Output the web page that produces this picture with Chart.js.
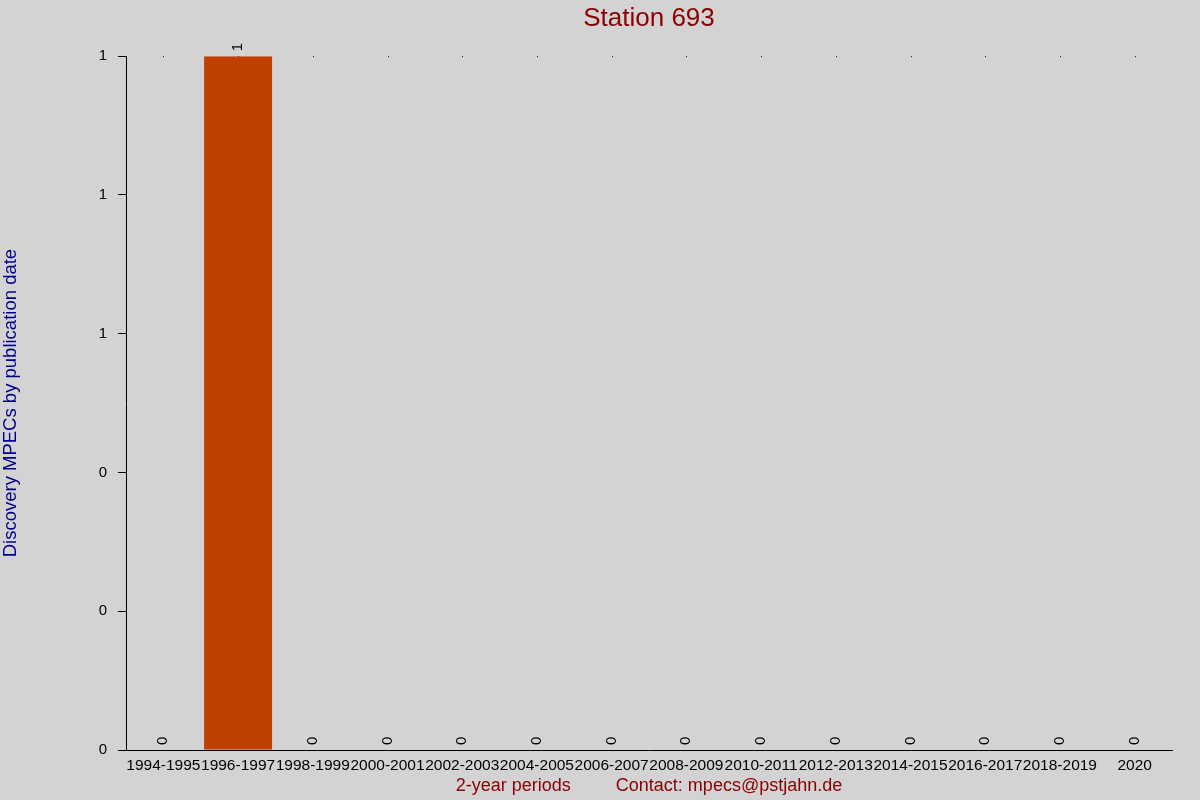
<!DOCTYPE html>
<html>
<head>
<meta charset="utf-8">
<title>Station 693</title>
<script src="https://cdn.jsdelivr.net/npm/chart.js@4/dist/chart.umd.min.js"></script>
<style>
  html, body { margin: 0; padding: 0; background: #d3d3d3; }
  canvas { display: block; }
</style>
</head>
<body>
<canvas id="chart" width="1200" height="800"></canvas>
<script>
// Data
const periods = ["1994-1995", "1996-1997", "1998-1999", "2000-2001", "2002-2003", "2004-2005",
    "2006-2007", "2008-2009", "2010-2011", "2012-2013", "2014-2015", "2016-2017", "2018-2019", "2020"];
const mpecCounts = [0, 1, 0, 0, 0, 0, 0, 0, 0, 0, 0, 0, 0, 0];
const yTickValues = [0, 0.2, 0.4, 0.6, 0.8, 1];

const FONT = "'Liberation Sans', Arial, sans-serif";

// Grey page background
const background = {
    id: "background",
    beforeDraw(chart) {
        const ctx = chart.ctx;
        ctx.save();
        ctx.fillStyle = "#d3d3d3";
        ctx.fillRect(0, 0, chart.width, chart.height);
        ctx.restore();
    }
};

// Tiny dots along the top edge at each category
const topDots = {
    id: "topDots",
    beforeDatasetsDraw(chart) {
        const ctx = chart.ctx;
        const x = chart.scales.x;
        const top = chart.chartArea.top;
        ctx.save();
        ctx.fillStyle = "#000";
        periods.forEach((p, i) => {
            ctx.fillRect(Math.round(x.getPixelForValue(i)), top, 1, 1);
        });
        ctx.restore();
    }
};

// Rotated value labels above each bar
const valueLabels = {
    id: "valueLabels",
    afterDatasetsDraw(chart) {
        const ctx = chart.ctx;
        const meta = chart.getDatasetMeta(0);
        ctx.save();
        ctx.fillStyle = "#000";
        ctx.font = "15px " + FONT;
        ctx.textAlign = "left";
        ctx.textBaseline = "middle";
        meta.data.forEach((bar, i) => {
            ctx.save();
            ctx.translate(bar.x, bar.y - 5);
            ctx.rotate(-Math.PI / 2);
            ctx.fillText(String(mpecCounts[i]), 0, 0);
            ctx.restore();
        });
        ctx.restore();
    }
};

new Chart(document.getElementById("chart"), {
    type: "bar",
    data: {
        labels: periods,
        datasets: [{
            data: mpecCounts,
            backgroundColor: "#c04000",
            borderWidth: 0,
            categoryPercentage: 1,
            barPercentage: 0.91
        }]
    },
    options: {
        responsive: false,
        animation: false,
        devicePixelRatio: 1,
        layout: { padding: { left: 0, right: 28, top: 0, bottom: 0 } },
        plugins: {
            legend: { display: false },
            tooltip: { enabled: false },
            title: {
                display: true,
                fullSize: false,
                text: "Station 693",
                color: "#8b0000",
                font: { family: FONT, size: 26, weight: "normal" },
                padding: { top: 3, bottom: 22 }
            }
        },
        scales: {
            x: {
                border: { color: "#000", width: 1 },
                grid: { display: false },
                ticks: {
                    color: "#000",
                    font: { family: FONT, size: 15.5 },
                    maxRotation: 0,
                    autoSkip: false,
                    padding: -2
                },
                title: {
                    display: true,
                    text: "2-year periods         Contact: mpecs@pstjahn.de",
                    color: "#8b0000",
                    font: { family: FONT, size: 18 },
                    padding: { top: 0, bottom: 3 }
                },
                afterFit(scale) { scale.height = 50; }
            },
            y: {
                min: 0,
                max: 1,
                afterBuildTicks(scale) {
                    scale.ticks = yTickValues.map(v => ({ value: v }));
                },
                border: { color: "#000", width: 1 },
                grid: { drawOnChartArea: false, drawTicks: true, tickLength: 8, color: "#000" },
                ticks: {
                    color: "#000",
                    font: { family: FONT, size: 15 },
                    padding: 11,
                    callback: v => Math.round(v)
                },
                title: {
                    display: true,
                    text: "Discovery MPECs by publication date",
                    color: "#00008b",
                    font: { family: FONT, size: 18.5 },
                    padding: { top: 0, bottom: 0 }
                },
                afterFit(scale) { scale.width = 126; }
            }
        }
    },
    plugins: [background, topDots, valueLabels]
});
</script>
</body>
</html>
